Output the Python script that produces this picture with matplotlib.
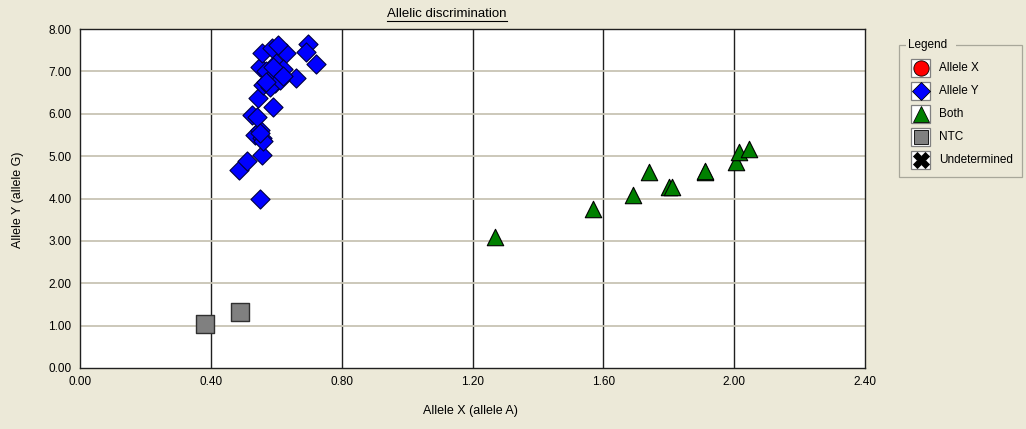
import matplotlib
matplotlib.use("Agg")
import matplotlib.pyplot as plt
from matplotlib.patches import Rectangle
from matplotlib.lines import Line2D

plt.rcParams['font.family'] = ['Liberation Sans', 'DejaVu Sans']

# Data
allele_y_x = [0.55, 0.486, 0.51, 0.556, 0.535, 0.556, 0.55, 0.526, 0.54, 0.59, 0.545,
              0.56, 0.596, 0.58, 0.66, 0.55, 0.60, 0.556, 0.586, 0.63, 0.605, 0.697,
              0.69, 0.72, 0.57, 0.60, 0.62, 0.58, 0.61, 0.57, 0.59, 0.56, 0.55, 0.62]
allele_y_y = [4.00, 4.67, 4.88, 5.03, 5.50, 5.42, 5.62, 5.97, 5.92, 6.17, 6.37,
              6.68, 6.72, 6.84, 6.85, 7.10, 7.20, 7.43, 7.55, 7.43, 7.62, 7.64,
              7.46, 7.17, 7.00, 6.95, 7.05, 6.62, 6.80, 6.75, 7.10, 5.35, 5.55, 6.90]
both_x = [1.27, 1.567, 1.69, 1.74, 1.80, 1.81, 1.91, 1.912, 2.005, 2.015, 2.045]
both_y = [3.10, 3.75, 4.08, 4.62, 4.28, 4.28, 4.63, 4.66, 4.87, 5.10, 5.16]
ntc_x = [0.382, 0.49]
ntc_y = [1.05, 1.32]

x_ticks = [0.0, 0.4, 0.8, 1.2, 1.6, 2.0, 2.4]
y_ticks = [0, 1, 2, 3, 4, 5, 6, 7, 8]
legend_labels = ["Allele X", "Allele Y", "Both", "NTC", "Undetermined"]

W, H = 1026, 429
bg = "#ECE9D8"
fig = plt.figure(figsize=(W / 100, H / 100), dpi=100, facecolor=bg)

ax = fig.add_axes([80 / W, (H - 368) / H, (865 - 80) / W, (368 - 29) / H])
ax.set_facecolor("white")
ax.set_xlim(0, 2.4)
ax.set_ylim(0, 8)
ax.set_xticks(x_ticks)
ax.set_yticks(y_ticks)
ax.set_xticklabels([f"{v:.2f}" for v in x_ticks])
ax.set_yticklabels([f"{v:.2f}" for v in y_ticks])
ax.tick_params(length=0, labelsize=8.5, pad=6, colors="black")

for v in x_ticks[1:-1]:
    ax.axvline(v, color="#202020", lw=1.0, zorder=1)
for v in y_ticks[1:-1]:
    ax.axhline(v, color="#C8C4B4", lw=1.3, zorder=1)
for s in ax.spines.values():
    s.set_color("#202020")
    s.set_linewidth(1.0)

ax.scatter(allele_y_x, allele_y_y, marker="D", s=95, c="#0000FF",
           edgecolors="#000040", linewidths=0.8, zorder=3)
ax.scatter(both_x, both_y, marker="^", s=140, c="#008000",
           edgecolors="black", linewidths=0.8, zorder=3)
ax.scatter(ntc_x, ntc_y, marker="s", s=180, c="#808080",
           edgecolors="#303030", linewidths=1.0, zorder=3)

title = fig.text(447 / W, 1 - 14 / H, "Allelic discrimination", ha="center",
                 va="center", fontsize=9.5)
fig.canvas.draw()
bb = title.get_window_extent(renderer=fig.canvas.get_renderer())
fig.add_artist(Line2D([bb.x0 / W, bb.x1 / W], [1 - 21 / H, 1 - 21 / H],
                      color="black", lw=0.8))
fig.text(470 / W, 1 - 411 / H, "Allele X (allele A)", ha="center", va="center",
         fontsize=9)
fig.text(18 / W, 1 - 200 / H, "Allele Y (allele G)", ha="center", va="center",
         rotation=90, fontsize=9)

# Legend group box
def px(x, y):
    return x / W, 1 - y / H

x0, y0, x1, y1 = 899, 45, 1022, 177
fig.add_artist(Rectangle(px(x0, y1), (x1 - x0) / W, (y1 - y0) / H,
                         fill=False, edgecolor="#A8A79A", lw=0.9))
fig.add_artist(Rectangle(px(906, y0 + 5), 50 / W, 10 / H, facecolor=bg,
                         edgecolor="none"))
fig.text(*px(908, y0), "Legend", ha="left", va="center", fontsize=8.5)

markers = [("o", "#FF0000", 11), ("D", "#0000FF", 9), ("^", "#008000", 11),
           ("s", "#808080", 10), ("X", "black", 12)]
for i, (lab, (m, c, ms)) in enumerate(zip(legend_labels, markers)):
    cy = 68 + i * 23
    fig.add_artist(Rectangle(px(911, cy + 9), 19 / W, 18 / H, facecolor="white",
                             edgecolor="#808080", lw=0.9))
    fig.add_artist(Line2D([920.5 / W], [1 - cy / H], marker=m, markersize=ms,
                          markerfacecolor=c, markeredgecolor="black",
                          markeredgewidth=0.6, linestyle="none"))
    fig.text(*px(939, cy), lab, ha="left", va="center", fontsize=8.5)

fig.savefig("out.png", dpi=100, facecolor=bg)
